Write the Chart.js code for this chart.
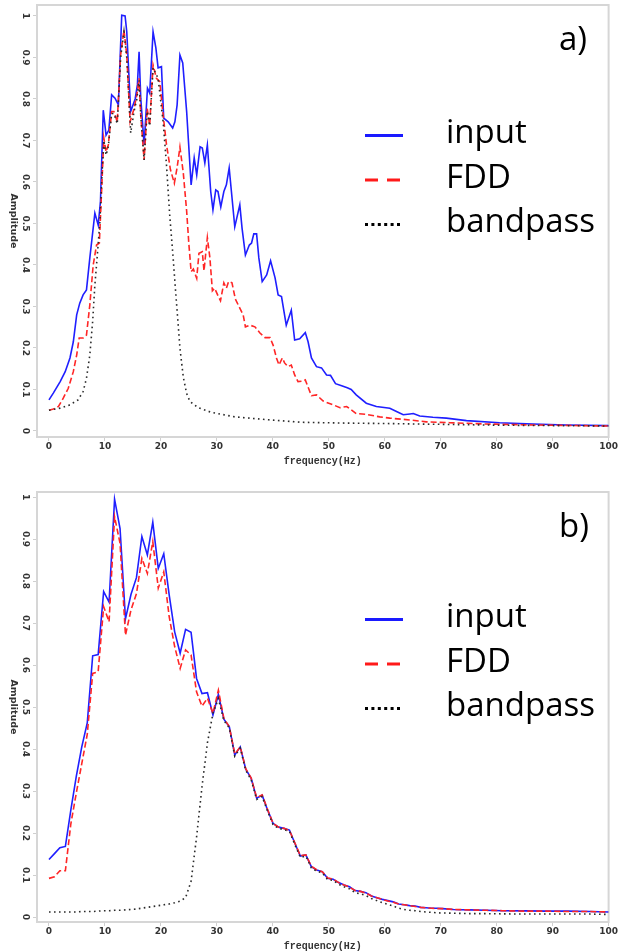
<!DOCTYPE html>
<html>
<head>
<meta charset="utf-8">
<script src="https://cdn.jsdelivr.net/npm/chart.js@4.4.1/dist/chart.umd.min.js"></script>
<style>
  html, body { margin: 0; padding: 0; background: #fff; }
  #wrap { position: relative; width: 619px; height: 951px; }
  canvas { position: absolute; left: 0; }
</style>
</head>
<body>
<div id="wrap">
  <canvas id="chartA" width="619" height="466" style="top:0px"></canvas>
  <canvas id="chartB" width="619" height="475" style="top:476px"></canvas>
</div>
<script>
const xTicks = [0, 10, 20, 30, 40, 50, 60, 70, 80, 90, 100];
const yTicks = [0, 0.1, 0.2, 0.3, 0.4, 0.5, 0.6, 0.7, 0.8, 0.9, 1];
const seriesNames = ['input', 'FDD', 'bandpass'];

// panel a)
const freqA_input = [0, 0.8, 2.0, 2.9, 3.75, 4.35, 4.95, 5.5, 6.1, 6.7,
  7.3, 8.2, 8.8, 9.2, 9.7, 10.2, 10.7, 11.2, 11.8, 12.4,
  13.0, 13.6, 13.9, 14.6, 15.4, 15.8, 16.1, 16.4, 17.0, 17.6,
  18.0, 18.6, 19.1, 19.5, 20.1, 20.5, 21.3, 22.1, 22.5, 22.9,
  23.4, 23.9, 24.6, 25.4, 25.95, 26.4, 27.0, 27.4, 27.85, 28.3,
  28.9, 29.3, 29.8, 30.2, 30.7, 31.25, 31.7, 32.2, 32.6, 33.2,
  34.1, 34.5, 35.1, 35.8, 36.2, 36.6, 37.1, 37.5, 38.1, 38.9,
  39.6, 40.4, 40.95, 41.55, 42.4, 43.3, 43.9, 44.8, 45.8, 46.3,
  46.9, 47.8, 48.7, 49.6, 50.3, 51.2, 52.3, 53.3, 54.0, 54.9,
  56.7, 58.5, 60.9, 62.1, 63.3, 64.5, 65.1, 66.25, 68.6, 71,
  74.6, 80.5, 86.5, 92.4, 100];
const ampA_input = [0.075, 0.092, 0.119, 0.143, 0.176, 0.215, 0.28, 0.308, 0.328, 0.34,
  0.417, 0.525, 0.496, 0.553, 0.773, 0.713, 0.725, 0.81, 0.802, 0.786,
  1.002, 1.0, 0.962, 0.77, 0.80, 0.834, 0.914, 0.802, 0.689, 0.826,
  0.814, 0.962, 0.923, 0.875, 0.878, 0.754, 0.745, 0.73, 0.745, 0.786,
  0.906, 0.887, 0.77, 0.593, 0.658, 0.617, 0.685, 0.682, 0.646, 0.689,
  0.577, 0.533, 0.581, 0.577, 0.54, 0.577, 0.593, 0.634, 0.577, 0.492,
  0.545, 0.489, 0.424, 0.448, 0.453, 0.475, 0.475, 0.417, 0.36, 0.376,
  0.41, 0.369, 0.328, 0.324, 0.255, 0.291, 0.219, 0.222, 0.237, 0.215,
  0.176, 0.155, 0.152, 0.135, 0.134, 0.114, 0.109, 0.104, 0.1, 0.087,
  0.067, 0.059, 0.055, 0.047, 0.039, 0.041, 0.042, 0.036, 0.033, 0.031,
  0.025, 0.02, 0.017, 0.0145, 0.013];

const freqA_fdd = [0, 0.8, 1.7, 2.55, 3.45, 4.35, 4.95, 5.4, 6.1, 6.7,
  7.3, 7.9, 8.5, 9.0, 9.4, 9.8, 10.2, 10.6, 11.2, 11.6,
  12.2, 12.8, 13.4, 13.9, 14.5, 15.2, 15.7, 16.1, 16.4, 17.0,
  17.55, 18.0, 18.6, 19.2, 19.8, 20.4, 21.0, 21.7, 22.4, 22.9,
  23.4, 24.0, 24.6, 25.0, 25.4, 25.8, 26.4, 26.8, 27.4, 27.7,
  28.3, 28.75, 29.2, 29.6, 30.2, 30.65, 31.25, 31.7, 32.1, 32.7,
  33.3, 34.1, 34.7, 35.1, 35.9, 36.8, 37.7, 38.6, 39.5, 40.05,
  40.65, 41.1, 41.7, 42.1, 42.7, 43.3, 43.9, 44.5, 45.4, 45.8,
  46.9, 47.8, 49.0, 50.8, 52.0, 53.2, 54.9, 56.7, 59.1, 60.9,
  63.3, 65, 67.4, 71.6, 77.6, 86.5, 100];
const ampA_fdd = [0.05, 0.053, 0.059, 0.079, 0.103, 0.143, 0.183, 0.224, 0.224, 0.231,
  0.304, 0.4, 0.448, 0.453, 0.577, 0.706, 0.673, 0.689, 0.77, 0.77,
  0.745, 0.906, 0.966, 0.906, 0.745, 0.777, 0.81, 0.85, 0.761, 0.653,
  0.777, 0.737, 0.882, 0.85, 0.842, 0.761, 0.69, 0.63, 0.597, 0.635,
  0.684, 0.622, 0.53, 0.45, 0.384, 0.39, 0.368, 0.428, 0.432, 0.386,
  0.466, 0.418, 0.338, 0.344, 0.326, 0.314, 0.357, 0.344, 0.36, 0.357,
  0.318, 0.296, 0.28, 0.251, 0.255, 0.251, 0.236, 0.225, 0.225, 0.207,
  0.176, 0.159, 0.176, 0.164, 0.155, 0.159, 0.135, 0.119, 0.12, 0.123,
  0.085, 0.087, 0.072, 0.063, 0.056, 0.059, 0.042, 0.04, 0.034, 0.031,
  0.028, 0.026, 0.022, 0.02, 0.017, 0.0145, 0.012];

const freqA_band = [0, 2.0, 3.75, 5.2, 6.1, 6.7, 7.3, 7.8, 8.2, 8.6,
  9.1, 9.5, 9.8, 10.2, 10.6, 11.2, 11.6, 12.2, 12.8, 13.4,
  13.9, 14.6, 15.2, 15.7, 16.1, 16.4, 17.0, 17.55, 18.0, 18.6,
  19.5, 20.4, 21.0, 21.6, 22.2, 22.8, 23.4, 24.0, 24.6, 25.2,
  26.7, 29.0, 33.2, 39.2, 45, 53, 60, 70, 80, 90, 100];
const ampA_band = [0.05, 0.055, 0.063, 0.075, 0.095, 0.127, 0.183, 0.263, 0.352, 0.417,
  0.504, 0.625, 0.70, 0.665, 0.685, 0.765, 0.765, 0.74, 0.9, 0.962,
  0.9, 0.718, 0.77, 0.80, 0.845, 0.76, 0.653, 0.77, 0.735, 0.875,
  0.85, 0.745, 0.641, 0.515, 0.415, 0.306, 0.2, 0.13, 0.09, 0.071,
  0.056, 0.045, 0.034, 0.027, 0.021, 0.019, 0.018, 0.016, 0.014, 0.013, 0.012];

// panel b)
const freqB = [0, 0.98, 1.95, 2.93, 3.91, 4.88, 5.86, 6.84, 7.81, 8.79,
  9.77, 10.74, 11.72, 12.70, 13.67, 14.65, 15.63, 16.60, 17.58, 18.55,
  19.53, 20.51, 21.48, 22.46, 23.44, 24.41, 25.39, 26.37, 27.34, 28.32,
  29.30, 30.27, 31.25, 32.23, 33.20, 34.18, 35.16, 36.13, 37.11, 38.09,
  39.06, 40.04, 41.02, 41.99, 42.97, 43.95, 44.92, 45.90, 46.88, 47.85,
  48.83, 49.80, 50.78, 51.76, 52.73,
  53.71, 54.69, 55.66, 56.64, 57.62, 58.59, 59.57, 60.55, 61.52, 62.50,
  63.48, 64.45, 65.43, 66.41, 67.38, 68.36, 69.34, 70.31, 72.27, 75.20,
  78.13, 81.05, 84.96, 88.87, 92.77, 96.68, 100];
const ampB_input = [0.137, 0.151, 0.165, 0.168, 0.255, 0.335, 0.405, 0.462, 0.622, 0.625,
  0.775, 0.750, 0.995, 0.925, 0.710, 0.768, 0.808, 0.906, 0.862, 0.940,
  0.830, 0.865, 0.767, 0.679, 0.628, 0.685, 0.678, 0.568, 0.532, 0.534,
  0.481, 0.530, 0.471, 0.453, 0.386, 0.405, 0.352, 0.330, 0.283, 0.290,
  0.255, 0.223, 0.214, 0.211, 0.207, 0.175, 0.145, 0.148, 0.120, 0.112,
  0.108, 0.092, 0.090, 0.082, 0.076,
  0.072, 0.063, 0.061, 0.058, 0.050, 0.046, 0.042, 0.039, 0.036, 0.031,
  0.029, 0.027, 0.026, 0.023, 0.022, 0.021, 0.021, 0.020, 0.018, 0.017,
  0.016, 0.015, 0.0145, 0.014, 0.014, 0.013, 0.012];
const ampB_fdd = [0.092, 0.096, 0.110, 0.110, 0.222, 0.295, 0.365, 0.435, 0.580, 0.584,
  0.739, 0.703, 0.953, 0.890, 0.671, 0.731, 0.770, 0.854, 0.818, 0.894,
  0.783, 0.822, 0.715, 0.644, 0.592, 0.636, 0.624, 0.536, 0.502, 0.521,
  0.485, 0.540, 0.473, 0.453, 0.388, 0.405, 0.353, 0.331, 0.284, 0.291,
  0.256, 0.223, 0.214, 0.211, 0.206, 0.176, 0.146, 0.148, 0.121, 0.112,
  0.108, 0.093, 0.090, 0.082, 0.076,
  0.071, 0.063, 0.061, 0.057, 0.050, 0.046, 0.042, 0.038, 0.035, 0.031,
  0.029, 0.027, 0.025, 0.023, 0.022, 0.021, 0.020, 0.020, 0.018, 0.017,
  0.016, 0.015, 0.014, 0.014, 0.013, 0.013, 0.012];
const ampB_band = [0.012, 0.012, 0.012, 0.012, 0.012, 0.012, 0.013, 0.013, 0.013, 0.014,
  0.015, 0.015, 0.016, 0.016, 0.017, 0.018, 0.019, 0.021, 0.023, 0.025,
  0.027, 0.029, 0.031, 0.034, 0.038, 0.046, 0.085, 0.190, 0.310, 0.415,
  0.485, 0.520, 0.468, 0.450, 0.383, 0.402, 0.349, 0.327, 0.280, 0.287,
  0.252, 0.220, 0.211, 0.208, 0.204, 0.172, 0.142, 0.145, 0.117, 0.109,
  0.105, 0.089, 0.087, 0.078, 0.072,
  0.067, 0.058, 0.055, 0.051, 0.044, 0.039, 0.034, 0.030, 0.026, 0.021,
  0.018, 0.016, 0.015, 0.013, 0.012, 0.011, 0.010, 0.0095, 0.009, 0.008,
  0.008, 0.0075, 0.007, 0.007, 0.007, 0.007, 0.006];

const tickFont = { family: 'DejaVu Sans', size: 9, weight: 'bold', lineHeight: 1 };

function pts(freq, amp) {
  return freq.map((f, i) => ({ x: f, y: amp[i] }));
}

// legend sample styles (thicker than the plotted lines)
const legendStyle = {
  input: { color: '#1a1aff', dash: [], width: 3 },
  FDD: { color: '#ff1a1a', dash: [13, 9], width: 3 },
  bandpass: { color: '#000000', dash: [3, 3.4], width: 3 },
};

const panelDecor = {
  id: 'panelDecor',
  beforeDatasetsDraw(chart) {
    const { ctx, chartArea: a } = chart;
    ctx.save();
    ctx.strokeStyle = '#d6d6d6';
    ctx.lineWidth = 2;
    ctx.strokeRect(a.left, a.top, a.right - a.left, a.bottom - a.top);
    ctx.restore();
  },
  afterDraw(chart, args, opts) {
    const { ctx, chartArea: a } = chart;

    // y axis title, reads top to bottom
    ctx.save();
    ctx.translate(13, (a.top + a.bottom) / 2);
    ctx.rotate(Math.PI / 2);
    ctx.font = 'bold 9.5px "DejaVu Sans"';
    ctx.fillStyle = '#333';
    ctx.textAlign = 'center';
    ctx.textBaseline = 'middle';
    ctx.fillText('Amplitude', 0, 0);
    ctx.restore();

    ctx.save();
    ctx.font = '33px "Open Sans"';
    ctx.fillStyle = '#000';
    ctx.textBaseline = 'alphabetic';
    ctx.fillText(opts.panel, 559, a.top + 45);

    seriesNames.forEach((name, i) => {
      const st = legendStyle[name];
      const base = a.top + opts.legendTop + i * 44.5;
      ctx.beginPath();
      ctx.setLineDash(st.dash);
      ctx.lineWidth = st.width;
      ctx.strokeStyle = st.color;
      ctx.moveTo(365, base - 7.5);
      ctx.lineTo(403, base - 7.5);
      ctx.stroke();
      ctx.setLineDash([]);
      ctx.fillText(name, 446, base);
    });
    ctx.restore();
  }
};

function makeChart(id, panel, yMin, yMax, padTop, legendTop, series) {
  const ctx = document.getElementById(id).getContext('2d');
  return new Chart(ctx, {
    type: 'line',
    data: {
      datasets: [
        {
          label: seriesNames[0],
          data: series[0],
          borderColor: '#1f1fff',
          borderWidth: 1.6,
          order: 3,
        },
        {
          label: seriesNames[1],
          data: series[1],
          borderColor: '#ff2626',
          borderWidth: 1.6,
          borderDash: [6, 3],
          order: 2,
        },
        {
          label: seriesNames[2],
          data: series[2],
          borderColor: '#2a2a2a',
          borderWidth: 1.6,
          borderDash: [1.6, 3.4],
          order: 1,
        },
      ],
    },
    options: {
      responsive: false,
      animation: false,
      parsing: false,
      layout: { padding: { top: padTop, right: 10, left: 0, bottom: 0 } },
      elements: {
        point: { radius: 0 },
        line: { tension: 0, fill: false },
      },
      scales: {
        x: {
          type: 'linear',
          min: -2.14,
          max: 100,
          afterBuildTicks: (s) => { s.ticks = xTicks.map((v) => ({ value: v })); },
          afterFit: (s) => { s.height = 29; },
          grid: { drawOnChartArea: false, drawTicks: true, tickLength: 4, color: '#cfcfcf' },
          border: { display: false },
          ticks: {
            autoSkip: false, maxRotation: 0, minRotation: 0, padding: 1,
            font: tickFont, color: '#333',
            callback: (v) => String(v),
          },
          title: {
            display: true,
            text: 'frequency(Hz)',
            color: '#333',
            font: { family: 'Liberation Mono', size: 10, weight: 'bold', lineHeight: 1 },
            padding: { top: 0, bottom: 0 },
          },
        },
        y: {
          type: 'linear',
          min: yMin,
          max: yMax,
          afterBuildTicks: (s) => { s.ticks = yTicks.map((v) => ({ value: v })); },
          afterFit: (s) => { s.width = 37; },
          grid: { drawOnChartArea: false, drawTicks: true, tickLength: 4, color: '#cfcfcf' },
          border: { display: false },
          ticks: {
            autoSkip: false, minRotation: -90, maxRotation: -90,
            crossAlign: 'center', padding: 0,
            font: tickFont, color: '#333',
            callback: (v) => String(v),
          },
        },
      },
      plugins: {
        legend: { display: false },
        tooltip: { enabled: false },
        panelDecor: { panel: panel, legendTop: legendTop },
      },
    },
    plugins: [panelDecor],
  });
}

makeChart('chartA', 'a)', -0.0145, 1.0265, 5, 138, [
  pts(freqA_input, ampA_input),
  pts(freqA_fdd, ampA_fdd),
  pts(freqA_band, ampA_band),
]);

makeChart('chartB', 'b)', -0.0119, 1.012, 16, 135, [
  pts(freqB, ampB_input),
  pts(freqB, ampB_fdd),
  pts(freqB, ampB_band),
]);
</script>
</body>
</html>
